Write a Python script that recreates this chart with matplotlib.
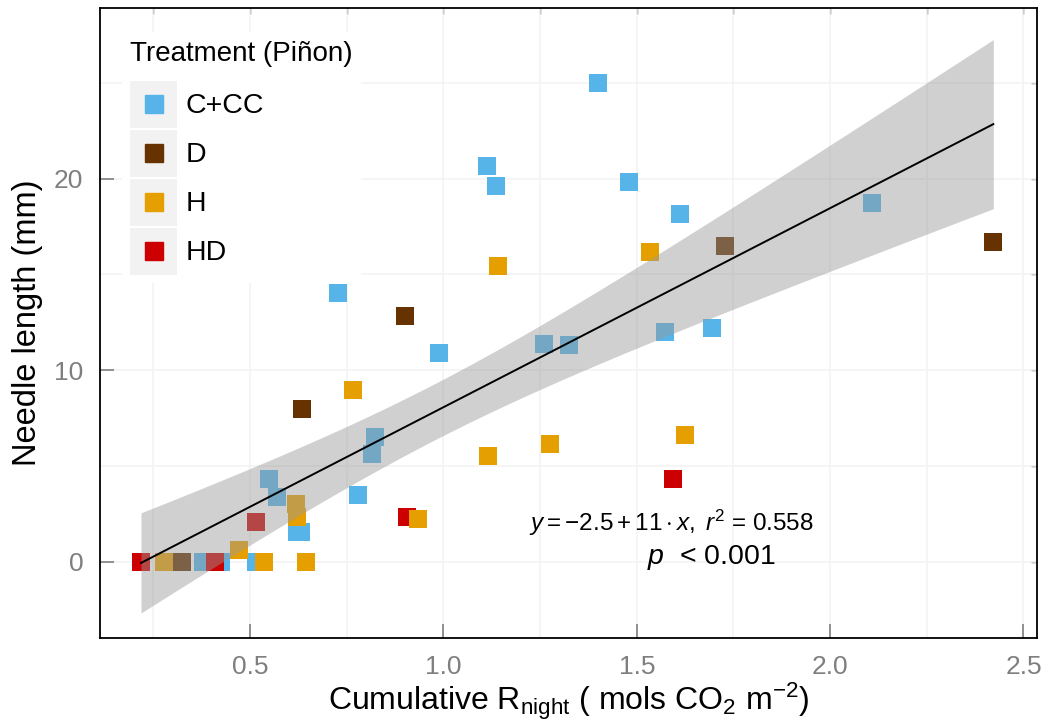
import numpy as np
import matplotlib
matplotlib.use("Agg")
import matplotlib.pyplot as plt
from matplotlib.patches import Rectangle
from matplotlib.legend_handler import HandlerBase
from matplotlib.lines import Line2D
from matplotlib.ticker import MultipleLocator

plt.rcParams['font.family'] = ['Liberation Sans', 'DejaVu Sans']
plt.rcParams['mathtext.fontset'] = 'custom'
plt.rcParams['mathtext.rm'] = 'Liberation Sans'
plt.rcParams['mathtext.it'] = 'Liberation Sans:italic'
plt.rcParams['mathtext.bf'] = 'Liberation Sans:bold'

# ---- data ----
treatments = ["C+CC", "D", "H", "HD"]
colors = {"C+CC": "#56B4E9", "D": "#663300", "H": "#E69F00", "HD": "#CC0000"}

cc_x = [1.399, 1.114, 1.136, 1.479, 1.611, 2.108, 0.728, 0.989, 1.260, 1.325, 1.573,
        1.695, 0.822, 0.815, 0.779, 0.549, 0.570, 0.622, 0.633, 0.379, 0.425, 0.515]
cc_y = [25.0, 20.63, 19.6, 19.84, 18.15, 18.73, 14.02, 10.89, 11.39, 11.29, 11.98,
        12.19, 6.5, 5.6, 3.5, 4.3, 3.38, 1.53, 1.53, 0.0, 0.0, 0.0]

d_x = [0.634, 0.900, 1.727, 2.422, 0.324]
d_y = [7.97, 12.8, 16.47, 16.68, 0.0]

h_x = [0.766, 1.141, 1.534, 1.624, 1.115, 1.276, 0.935, 0.618, 0.621, 0.472, 0.278, 0.537, 0.644]
h_y = [8.96, 15.46, 16.17, 6.61, 5.5, 6.13, 2.24, 2.99, 2.33, 0.63, 0.0, 0.0, 0.0]

hd_x = [0.218, 0.410, 0.516, 0.905, 1.594]
hd_y = [0.0, 0.0, 2.1, 2.33, 4.3]

series = {"C+CC": (cc_x, cc_y), "D": (d_x, d_y), "H": (h_x, h_y), "HD": (hd_x, hd_y)}
draw_order = ["C+CC", "D", "HD", "H"]

eq_text = r"$y = -2.5 + 11 \cdot x,\; r^{2}$ = 0.558"
p_text = r"$p$  < 0.001"

# ---- figure ----
fig = plt.figure(figsize=(10.51, 7.25), dpi=100)
ax = fig.add_axes([100/1051, 87/725, 937/1051, 630/725])

for t in draw_order:
    x, y = series[t]
    ax.scatter(x, y, marker='s', s=168, color=colors[t], linewidths=0, zorder=3)

# regression with 95% CI
allx = np.concatenate([np.asarray(series[t][0]) for t in treatments])
ally = np.concatenate([np.asarray(series[t][1]) for t in treatments])
n = len(allx)
b1, b0 = np.polyfit(allx, ally, 1)
resid = ally - (b0 + b1 * allx)
s = np.sqrt(np.sum(resid**2) / (n - 2))
xm = allx.mean()
sxx = np.sum((allx - xm)**2)
tval = 2.0167
xs = np.linspace(allx.min(), allx.max(), 100)
ys = b0 + b1 * xs
se = s * np.sqrt(1.0 / n + (xs - xm)**2 / sxx)
ax.fill_between(xs, ys - tval * se, ys + tval * se, color='#999999', alpha=0.46,
                linewidth=0, zorder=4)
ax.plot(xs, ys, color='black', lw=1.4, zorder=5)

# axes styling
ax.set_xlim(0.112, 2.535)
ax.set_ylim(-3.98, 28.9)
ax.xaxis.set_major_locator(MultipleLocator(0.5))
ax.xaxis.set_minor_locator(MultipleLocator(0.25))
ax.yaxis.set_major_locator(MultipleLocator(10))
ax.yaxis.set_minor_locator(MultipleLocator(5))
ax.grid(True, which='both', color='#f3f3f3', lw=1.1, zorder=0)
ax.set_axisbelow(True)
ax.tick_params(which='major', direction='in', length=10, width=1.2, color='#7f7f7f',
               labelsize=19, labelcolor='#7f7f7f', pad=12)
ax.tick_params(which='minor', length=0)
for sp in ax.spines.values():
    sp.set_color('black')
    sp.set_linewidth(1.3)

secx = ax.secondary_xaxis('top')
secx.xaxis.set_major_locator(MultipleLocator(0.25))
secx.tick_params(direction='in', length=4, width=1, color='#555555', labeltop=False)
secx.spines['top'].set_visible(False)
secy = ax.secondary_yaxis('right')
secy.yaxis.set_major_locator(MultipleLocator(5))
secy.tick_params(direction='in', length=4, width=1, color='#555555', labelright=False)
secy.spines['right'].set_visible(False)

ax.set_xlabel(r"Cumulative R$_{\mathrm{night}}$ ( mols CO$_{2}$ m$^{-2}$)", fontsize=23, labelpad=1)
ax.set_ylabel("Needle length (mm)", fontsize=23.5, labelpad=8)

ax.text(0.610, 0.1825, eq_text, transform=ax.transAxes, ha='center', va='center', fontsize=17.5, zorder=6)
ax.text(0.653, 0.127, p_text, transform=ax.transAxes, ha='center', va='center', fontsize=20.5, zorder=6)

# legend with grey key backgrounds
class KeyHandler(HandlerBase):
    def create_artists(self, legend, orig_handle, xdescent, ydescent, width, height, fontsize, trans):
        bg = Rectangle((-xdescent, -ydescent), width, height,
                       facecolor='#f2f2f2', edgecolor='none', transform=trans)
        sq = Line2D([-xdescent + width / 2], [-ydescent + height / 2], marker='s', markersize=13,
                    color=orig_handle.get_color(), linestyle='none', transform=trans)
        return [bg, sq]

handles = [Line2D([], [], color=colors[t]) for t in treatments]
leg = ax.legend(handles, treatments, title="Treatment (Piñon)", loc='upper left',
                bbox_to_anchor=(0.008, 0.984), frameon=True, fontsize=20.5, title_fontsize=20,
                handler_map={Line2D: KeyHandler()}, handlelength=1.65, handleheight=2.16,
                labelspacing=0.07, handletextpad=0.28, borderpad=0.3, alignment='left')
leg._legend_box.sep = 10
leg.get_frame().set_facecolor('white')
leg.get_frame().set_edgecolor('none')
leg.get_frame().set_alpha(1.0)
leg.set_zorder(7)

fig.savefig("out.png", dpi=100)
